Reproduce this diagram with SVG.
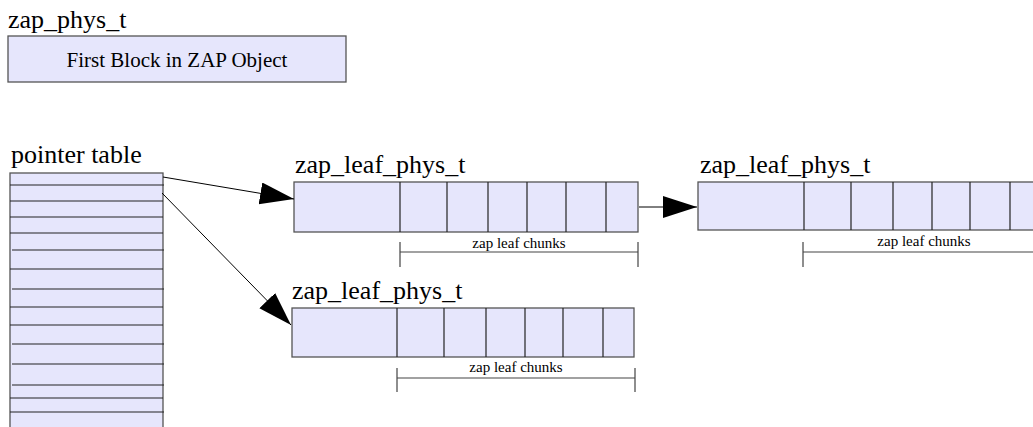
<svg xmlns="http://www.w3.org/2000/svg" width="1033" height="427" viewBox="0 0 1033 427">
<style>
.lbl,.txt,.sm{font-family:'Liberation Serif','Times New Roman',Times,'DejaVu Serif','Noto Serif',serif;fill:#000}
.lbl{font-size:26px}
.txt{font-size:21px}
.sm{font-size:15px}
.box{fill:#e6e6fc;stroke:#555;stroke-width:1.3}
.div{stroke:#222;stroke-width:1.2}
.br{stroke:#444;stroke-width:1.2;fill:none}
.con{stroke:#000;stroke-width:1;fill:none}
</style>
<defs>
<marker id="ah" markerUnits="userSpaceOnUse" markerWidth="36" markerHeight="24" refX="34" refY="11" orient="auto">
<path d="M0,0 L34,11 L0,22 z" fill="#000"/>
</marker>
</defs>
<rect width="1033" height="427" fill="#fff"/>
<g id="zap_phys">
<text class="lbl" x="8" y="28">zap_phys_t</text>
<rect class="box" x="8" y="36" width="338" height="46"/>
<text class="txt" x="177" y="67" text-anchor="middle">First Block in ZAP Object</text>
</g>
<g id="pointer_table">
<text class="lbl" x="11" y="163">pointer table</text>
<rect class="box" x="10" y="173" width="153" height="260"/>
<g class="div">
<line x1="10" y1="185" x2="164" y2="185"/>
<line x1="10" y1="201" x2="163" y2="201"/>
<line x1="10" y1="217" x2="163" y2="217"/>
<line x1="10" y1="233" x2="163" y2="233"/>
<line x1="12" y1="250" x2="164" y2="250"/>
<line x1="10" y1="269" x2="163" y2="269"/>
<line x1="12" y1="289" x2="164" y2="289"/>
<line x1="10" y1="307" x2="163" y2="307"/>
<line x1="10" y1="325" x2="163" y2="325"/>
<line x1="12" y1="344" x2="164" y2="344"/>
<line x1="12" y1="364" x2="164" y2="364"/>
<line x1="12" y1="385" x2="164" y2="385"/>
<line x1="10" y1="398" x2="163" y2="398"/>
<line x1="10" y1="412" x2="164" y2="412"/>
</g>
</g>
<g id="leaf1">
<text class="lbl" x="295" y="173">zap_leaf_phys_t</text>
<rect class="box" x="294" y="182" width="344" height="50"/>
<g class="div">
<line x1="400" y1="182" x2="400" y2="232"/>
<line x1="447" y1="182" x2="447" y2="232"/>
<line x1="488" y1="182" x2="488" y2="232"/>
<line x1="527" y1="182" x2="527" y2="232"/>
<line x1="566" y1="182" x2="566" y2="232"/>
<line x1="606" y1="182" x2="606" y2="232"/>
</g>
<path class="br" d="M400,242 V267 M638,242 V267 M400,252 H638"/>
<text class="sm" x="519" y="248" text-anchor="middle">zap leaf chunks</text>
</g>
<g id="leaf2">
<text class="lbl" x="700" y="173">zap_leaf_phys_t</text>
<rect class="box" x="698" y="182" width="344" height="48"/>
<g class="div">
<line x1="804" y1="182" x2="804" y2="230"/>
<line x1="851" y1="182" x2="851" y2="230"/>
<line x1="893" y1="182" x2="893" y2="230"/>
<line x1="932" y1="182" x2="932" y2="230"/>
<line x1="970" y1="182" x2="970" y2="230"/>
<line x1="1010" y1="182" x2="1010" y2="230"/>
</g>
<path class="br" d="M803,242 V267 M803,252 H1042"/>
<text class="sm" x="924" y="246" text-anchor="middle">zap leaf chunks</text>
</g>
<g id="leaf3">
<text class="lbl" x="292" y="299">zap_leaf_phys_t</text>
<rect class="box" x="292" y="308" width="342" height="49"/>
<g class="div">
<line x1="397" y1="308" x2="397" y2="357"/>
<line x1="444" y1="308" x2="444" y2="357"/>
<line x1="486" y1="308" x2="486" y2="357"/>
<line x1="525" y1="308" x2="525" y2="357"/>
<line x1="563" y1="308" x2="563" y2="357"/>
<line x1="603" y1="308" x2="603" y2="357"/>
</g>
<path class="br" d="M397,368 V392 M635,368 V392 M397,378 H635"/>
<text class="sm" x="516" y="372" text-anchor="middle">zap leaf chunks</text>
</g>
<g id="connectors">
<line class="con" x1="163" y1="177" x2="294" y2="199" marker-end="url(#ah)"/>
<line class="con" x1="162" y1="193" x2="291" y2="325" marker-end="url(#ah)"/>
<line class="con" x1="639" y1="207" x2="697" y2="207" marker-end="url(#ah)"/>
</g>
</svg>
